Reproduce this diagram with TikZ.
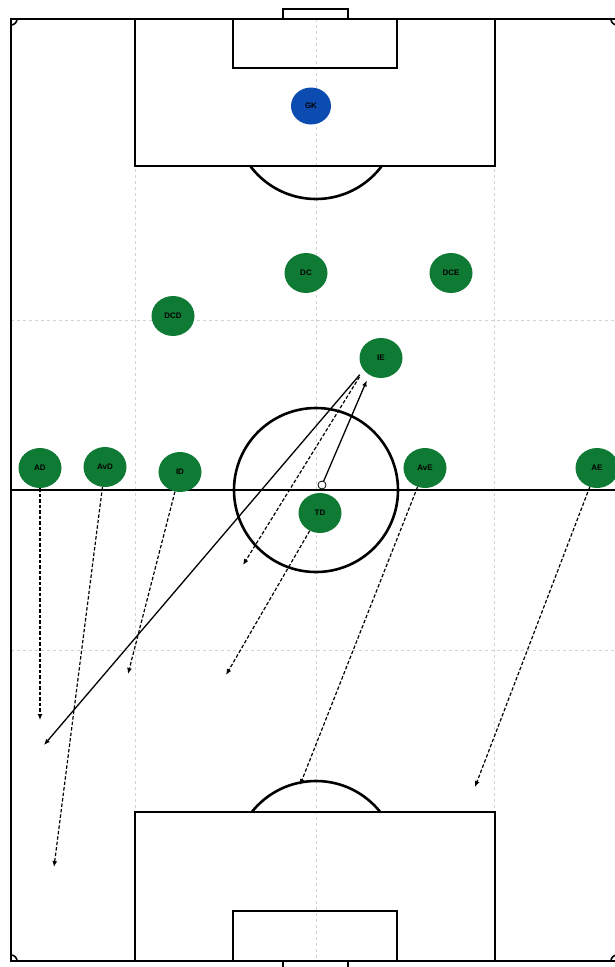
\documentclass[tikz,border=0pt]{standalone}
\usepackage{fontspec}
\newfontfamily\playerfont{Liberation Sans}
\usepackage{xcolor}
\usepackage{tikz}
\usetikzlibrary{shapes.geometric, arrows.meta}

\definecolor{kitgreen}{RGB}{14,122,52}
\definecolor{kitblue}{RGB}{12,76,176}

\begin{document}
\begin{tikzpicture}[x=1pt, y=-1pt,
  pitch/.style={draw=black, line width=2.6pt},
  gridline/.style={draw=gray!35, dashed, line width=0.7pt},
  player/.style={ellipse, fill=kitgreen, minimum width=43pt,
    minimum height=40pt, inner sep=0pt,
    font=\playerfont\bfseries\fontsize{8}{8}\selectfont},
  keeper/.style={player, fill=kitblue, minimum width=40pt, minimum height=37pt},
  run/.style={-{Latex[length=6pt,width=5pt]}, dash pattern=on 3.5pt off 2pt,
    line width=1.2pt},
  pass/.style={-{Latex[length=6pt,width=5pt]}, line width=1.3pt},
  ballnode/.style={circle, draw, fill=white, line width=0.8pt,
    minimum size=8pt, inner sep=0pt}
]
\path[use as bounding box, fill=white] (0,0) rectangle (615,967);

% Grid
\foreach \gx in {135,316,494} \draw[gridline] (\gx,19) -- (\gx,961);
\foreach \gy in {320,650} \draw[gridline] (11,\gy) -- (617,\gy);

% Pitch
\draw[pitch] (11,19) rectangle (617,961);
\draw[pitch] (11,490) -- (617,490);
\draw[pitch] (316,490) circle (82);
\draw[pitch] (135,19) rectangle (495,166);
\draw[pitch] (233,19) rectangle (397,68);
\draw[pitch, line width=1.8pt] (283,19) rectangle (348,9);
\draw[pitch] (135,961) rectangle (495,812);
\draw[pitch] (233,961) rectangle (397,911);
\draw[pitch, line width=1.8pt] (283,961) rectangle (348,971);
\begin{scope}
  \clip (0,166) rectangle (615,300);
  \draw[pitch] (316,117) circle (82);
\end{scope}
\begin{scope}
  \clip (0,700) rectangle (615,812);
  \draw[pitch] (316,863) circle (82);
\end{scope}
\begin{scope}
  \clip (11,19) rectangle (617,961);
  \foreach \cx/\cy in {11/19, 617/19, 11/961, 617/961}
    \draw[pitch, line width=1.6pt] (\cx,\cy) circle (6);
\end{scope}

% Players
\node[keeper] (gk) at (311,106) {GK};
\node[player] (dc) at (306,273) {DC};
\node[player] (dce) at (451,273) {DCE};
\node[player] (dcd) at (173,316) {DCD};
\node[player] (ie) at (381,358) {IE};
\node[player] (ad) at (40,468) {AD};
\node[player] (avd) at (105,467) {AvD};
\node[player] (id) at (180,472) {ID};
\node[player] (ave) at (425,468) {AvE};
\node[player] (ae) at (597,468) {AE};
\node[player] (td) at (320,513) {TD};
\node[ballnode] (ball) at (322,485) {};

% Targets
\coordinate (ad-end) at (40,720);
\coordinate (avd-end) at (54,867);
\coordinate (id-end) at (128,674);
\coordinate (ie-end) at (243,565);
\coordinate (ie-pass) at (44,745);
\coordinate (td-end) at (226,675);
\coordinate (ave-end) at (300,785);
\coordinate (ae-end) at (475,787);

% Runs and passes
\draw[run] (ad) -- (ad-end);
\draw[run] (avd) -- (avd-end);
\draw[run] (id) -- (id-end);
\draw[run, shorten <=8pt] (ie.215) -- (ie-end);
\draw[run] (td) -- (td-end);
\draw[run] (ave) -- (ave-end);
\draw[run] (ae) -- (ae-end);
\draw[pass, shorten >=6pt] (ball) -- (ie.235);
\draw[pass, shorten <=6pt] (ie.215) -- (ie-pass);

\end{tikzpicture}
\end{document}
